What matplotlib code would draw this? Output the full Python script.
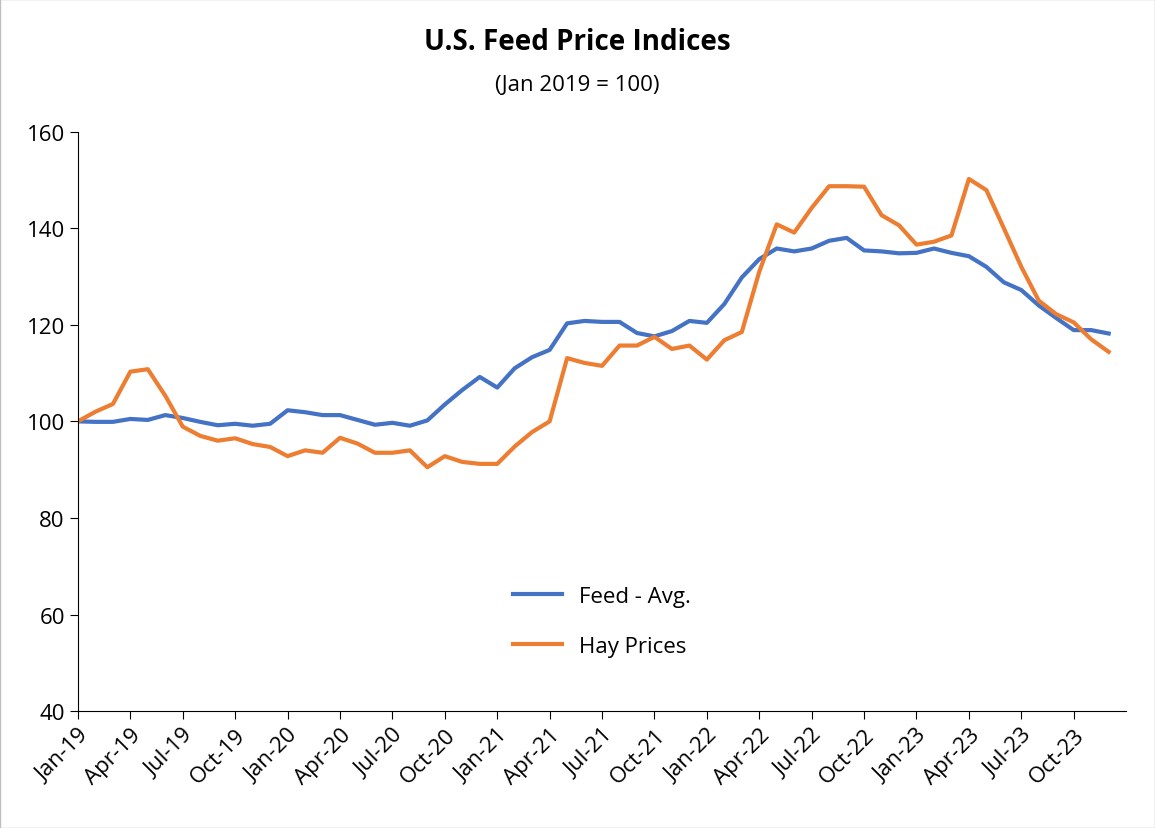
import matplotlib
matplotlib.use("Agg")
import matplotlib.pyplot as plt
import numpy as np
import pandas as pd

plt.rcParams['font.family'] = ['Open Sans', 'DejaVu Sans']

months = pd.date_range("2019-01-01", "2023-12-01", freq="MS")
feed = [100, 99.9, 99.9, 100.5, 100.3, 101.3, 100.7, 99.9, 99.2, 99.5, 99.1, 99.5,
        102.3, 101.9, 101.3, 101.3, 100.3, 99.3, 99.7, 99.1, 100.2, 103.5, 106.5, 109.2,
        107, 111, 113.3, 114.8, 120.3, 120.8, 120.6, 120.6, 118.3, 117.6, 118.7, 120.8,
        120.4, 124.3, 129.8, 133.6, 135.8, 135.2, 135.8, 137.4, 138, 135.4, 135.2, 134.8,
        134.9, 135.8, 134.9, 134.2, 132, 128.8, 127.2, 124, 121.4, 118.9, 118.9, 118.2]
hay = [100, 102, 103.6, 110.3, 110.8, 105.3, 98.9, 97, 96, 96.5, 95.3, 94.7,
       92.8, 94, 93.5, 96.6, 95.4, 93.5, 93.5, 94, 90.5, 92.8, 91.6, 91.2,
       91.2, 94.8, 97.8, 100, 113.1, 112.1, 111.5, 115.7, 115.7, 117.5, 115, 115.7,
       112.8, 116.8, 118.5, 131, 140.8, 139.1, 144.2, 148.7, 148.7, 148.6, 142.7, 140.6,
       136.6, 137.2, 138.5, 150.2, 147.9, 140, 132, 125, 122.2, 120.5, 117, 114.4]

x = np.arange(len(months))
fig = plt.figure(figsize=(11.55, 8.29), dpi=100)
fig.patches.append(plt.Rectangle((0, 0), 1, 1, transform=fig.transFigure,
                                 fill=False, edgecolor='#bfbfbf', lw=1))
ax = fig.add_axes([0.0675, 0.141, 0.9075, 0.699])
ax.plot(x, feed, color='#4472C4', lw=3, label='Feed - Avg.')
ax.plot(x, hay, color='#ED7D31', lw=3, label='Hay Prices')
ax.set_xlim(0, 60)
ax.set_ylim(40, 160)
ax.set_yticks(range(40, 161, 20))
ticks = x[::3]
ax.set_xticks(ticks)
ax.set_xticklabels([months[i].strftime('%b-%y') for i in ticks], rotation=45,
                   ha='right', rotation_mode='anchor', fontsize=16)
ax.tick_params(axis='y', labelsize=16, length=6)
ax.tick_params(axis='x', length=6, direction='out')
for s in ['top', 'right']:
    ax.spines[s].set_visible(False)
ax.legend(loc='center', bbox_to_anchor=(0.5, 0.155), frameon=False, fontsize=16,
          handlelength=2.2, labelspacing=1.3)
fig.text(0.5, 0.94, 'U.S. Feed Price Indices', ha='center', fontsize=20, fontweight='bold')
fig.text(0.5, 0.89, '(Jan 2019 = 100)', ha='center', fontsize=16)
fig.savefig('out.png', dpi=100)
